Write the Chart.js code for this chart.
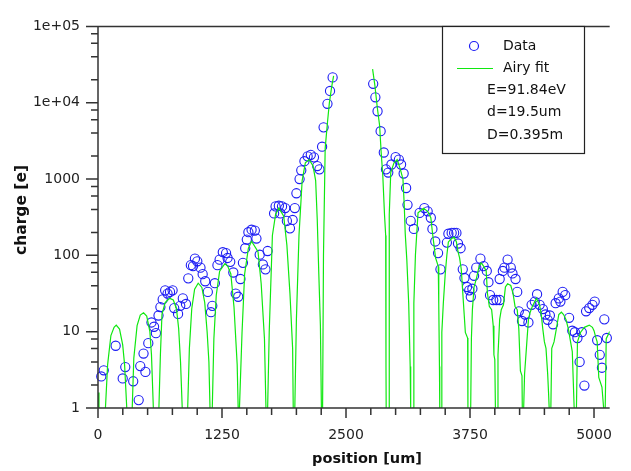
<!DOCTYPE html>
<html><head><meta charset="utf-8">
<script src="https://cdn.jsdelivr.net/npm/chart.js@4.4.0/dist/chart.umd.min.js"></script>
<style>html,body{margin:0;padding:0;background:#fff;}#wrap{width:631px;height:471px;position:relative;}</style>
</head><body><div id="wrap"><canvas id="c" width="631" height="471"></canvas></div>
<script>
// measured data (position in um, charge in e)
const dataX = [33,58,178,249,275,355,410,426,459,478,507,539,565,584,610,629,652,677,701,726,752,768,807,829,855,887,910,936,958,977,1001,1033,1055,1081,1107,1139,1152,1178,1204,1226,1258,1291,1306,1333,1364,1388,1413,1436,1461,1484,1500,1516,1548,1581,1597,1630,1662,1688,1710,1775,1790,1823,1839,1855,1887,1904,1935,1962,1984,2000,2032,2049,2081,2113,2145,2177,2210,2232,2259,2274,2313,2339,2365,2774,2796,2818,2849,2881,2903,2926,2958,3000,3033,3055,3081,3106,3120,3152,3184,3242,3290,3323,3355,3371,3400,3428,3452,3517,3532,3565,3590,3613,3629,3655,3677,3694,3720,3742,3758,3774,3791,3813,3855,3887,3919,3936,3952,3984,4016,4049,4049,4081,4097,4129,4161,4178,4209,4226,4242,4274,4306,4339,4371,4403,4426,4452,4484,4510,4533,4555,4587,4613,4645,4661,4684,4710,4749,4781,4807,4833,4855,4877,4903,4920,4952,4984,5007,5032,5058,5080,5104,5129];
const dataY = [2.59,3.12,6.54,2.44,3.44,2.24,1.27,3.54,5.17,2.97,7.07,13.2,11.6,9.56,16.3,21.0,26.5,34.8,31.6,33.2,34.8,20.4,17.1,21.8,27.3,23.1,50.0,74.4,72.3,90.5,83.6,69.0,56.7,45.8,33.2,18.0,21.8,43.2,74.4,87.9,110,107,92.4,82.2,59.6,31.6,28.7,49.0,79.8,124,161,201,217,211,166,102,76,65.6,114,354,438,447,354,438,417,283,226,291,417,651,1000,1301,1713,1982,2076,1925,1480,1340,2655,4757,9680,14260,21470,17700,11770,7730,4234,2228,1340,1217,1550,1942,1794,1550,1182,763,460,283,222,360,417,378,311,222,152,107,65.6,147,192,197,197,197,143,124,65.6,50.5,38.5,34.8,28.7,36.6,54,69,90.5,72.3,62.5,44.5,30.1,26.0,26.0,26.0,49,62.5,69,87.9,69,57.9,49,33.2,18.5,13.8,16.8,13.2,22.5,24.8,31.0,22.5,19.8,16.8,14.3,16.3,12.5,23.6,27.3,24.8,33.2,30.1,15.2,10.3,9.84,8.26,4.02,9.84,1.97,18.5,20.4,22.5,24.8,7.72,4.98,3.37,14.5,8.26];
// Airy fit curve
const fitX = [0,10, 75,97,130,162,184,217,249,268,290,303, 345,361,394,426,459,491,523,539,558,585, 614,629,645,677,716,726,759,791,813,832,849,878, 904,921,945,974,1010,1047,1076,1100,1118,1129,1141, 1152,1168,1192,1226,1279,1308,1339,1371,1403,1413,1420, 1426,1452,1478,1516,1548,1613,1645,1678,1693,1702, 1710,1726,1758,1790,1823,1872,1904,1935,1962,1968,1976, 1984,2000,2026,2058,2090,2129,2168,2194,2210,2226,2242,2252,2259, 2264,2273,2290,2313,2332,2355,2375, 2570, 2768,2791,2816,2839,2855,2871,2888,2900,2903,2905,2919, 2934,2936,2951,2984,3016,3048,3074,3087,3097,3113,3132,3147,3152,3161, 3176,3184,3200,3226,3281,3323,3355,3371,3387,3403,3430,3435,3442,3445,3452, 3459,3466,3481,3500,3517,3532,3565,3590,3613,3629,3645,3662,3684,3703,3726,3729,3742, 3757,3764,3774,3791,3817,3839,3862,3887,3913,3926,3945,3968,3984,3991,4000,4006,4016, 4026,4032,4049,4065,4087,4107,4129,4161,4184,4204,4226,4242,4258,4274,4277,4284, 4291,4300,4323,4339,4355,4378,4420,4451,4468,4484,4500,4516,4533,4542,4548,4555, 4565,4574,4597,4620,4645,4671,4693,4717,4742,4758,4781,4800,4811, 4823,4833,4865,4903,4952,4984,5000,5017,5032,5048,5080,5097,5105, 5113,5123,5155,5180];
const fitY = [1.6,0.1, 1,3.7,8.9,11.4,12.2,10.8,6.7,3.7,1,0.1, 1,4.5,12,16.5,17.7,16,10,5,1,0.1, 1,5,17,24,27,27.3,26,20,11,4,1,0.1, 1,6,20,36,43.2,38,24,10,4,1,0.1, 1,8,30,62,78,72,57,21,3.7,1,0.1, 1,9.8,56.7,124,153,112,42.4,8.1,1,0.1, 1,9.8,182,344,417,327,136,31.6,6.0,1,0.1, 1,14.5,182,955,1630,1795,1480,955,297,56.7,12,1,0.1, 1,102,2525,5508,9866,16030,22500, null, 27500,16840,8530,4990,2183,1105,344,182,3.5,1,0.1, 1,344,1217,1630,1795,1340,1000,460,193,88,23.6,3.5,1,0.1, 1,23.6,102,360,413,378,311,201,136,92.4,71.6,23.6,3.5,1,0.1, 1,9.8,23.6,56.7,102,150,166,173,150,112,92.4,65.6,23.6,9.8,8.26,1,0.1, 1,8.1,19.4,38.5,51.5,69,79.8,72.3,62.5,31.6,21.4,19.4,12,4.98,4.3,1,0.1, 1,4.98,14.5,19.4,22.5,38.5,42.4,40.3,31.6,21.4,19.4,10.8,3.06,2.64,1,0.1, 1,2.78,7.35,14.5,17.7,21.4,27.3,22.5,16.8,10.8,7.35,6.04,2.78,1.55,1,0.1, 1,6.04,7.35,10.8,16.8,18.0,16.8,14.5,10.8,8.1,5.49,1,0.1, 1,7.35,9.84,11.4,12.2,11.4,10.3,8.5,7.35,2.52,1.88,1,0.1, 1,8.1,9.84,10.5];
const xTickValues = [0,1250,2500,3750,5000];
const yTickValues = [1,10,100,1000,10000,100000];
const yTickLabels = ['1','10','100','1000','1e+04','1e+05'];
const xTitle = 'position [um]';
const yTitle = 'charge [e]';
const legendLabels = ['Data','Airy fit'];
const legendNotes = ['E=91.84eV','d=19.5um','D=0.395m'];

const FONT = 'DejaVu Sans';
const AXIS = '#333333';
const BLUE = '#1c1cf4';
const GREEN = '#10e810';

const decor = {
  id: 'decor',
  afterDraw(chart) {
    const ctx = chart.ctx, xs = chart.scales.x, ys = chart.scales.y, a = chart.chartArea;
    ctx.save();
    ctx.strokeStyle = AXIS; ctx.lineWidth = 1.5;
    ctx.beginPath();
    ctx.moveTo(a.left, a.top); ctx.lineTo(a.right, a.top);
    ctx.moveTo(a.left, a.top); ctx.lineTo(a.left, a.bottom); ctx.lineTo(a.right, a.bottom);
    for (let d = 0; d <= 5; d++) {
      const p = ys.getPixelForValue(Math.pow(10, d));
      ctx.moveTo(a.left - 12, p); ctx.lineTo(a.left, p);
      if (d < 5) for (const m of [2,4,6,8]) {
        const q = ys.getPixelForValue(m * Math.pow(10, d));
        ctx.moveTo(a.left - 7, q); ctx.lineTo(a.left, q);
      }
    }
    for (let v = 0; v <= xs.max; v += 250) {
      const p = xs.getPixelForValue(v);
      const len = (v % 1250 === 0) ? 10 : 7;
      ctx.moveTo(p, a.bottom); ctx.lineTo(p, a.bottom + len);
    }
    ctx.stroke();
    ctx.fillStyle = '#111';
    ctx.textAlign = 'center'; ctx.textBaseline = 'middle';
    ctx.font = 'bold 14.5px ' + FONT;
    ctx.fillText(xTitle, 367, 459);
    ctx.font = 'bold 15.5px ' + FONT;
    ctx.save(); ctx.translate(22, 210); ctx.rotate(-Math.PI / 2);
    ctx.fillText(yTitle, 0, 0); ctx.restore();
    ctx.fillStyle = '#fff';
    ctx.fillRect(442, 26, 142, 127);
    ctx.strokeStyle = '#222'; ctx.lineWidth = 1.2;
    ctx.strokeRect(442.5, 26.5, 142, 127);
    ctx.strokeStyle = BLUE; ctx.lineWidth = 1.2; ctx.beginPath(); ctx.arc(474, 46, 4.5, 0, Math.PI * 2); ctx.stroke();
    ctx.strokeStyle = GREEN; ctx.beginPath(); ctx.moveTo(457, 68.5); ctx.lineTo(493, 68.5); ctx.stroke();
    ctx.fillStyle = '#111'; ctx.font = '14px ' + FONT; ctx.textAlign = 'left';
    ctx.fillText(legendLabels[0], 503, 46);
    ctx.fillText(legendLabels[1], 503, 68);
    legendNotes.forEach((t, i) => ctx.fillText(t, 487, 90 + i * 22.5));
    ctx.restore();
  }
};

new Chart(document.getElementById('c'), {
  type: 'scatter',
  data: {
    datasets: [
      { type: 'line', label: legendLabels[1], data: fitX.map((x, i) => ({x, y: fitY[i]})),
        borderColor: GREEN, borderWidth: 1.2, pointRadius: 0, tension: 0, fill: false, spanGaps: false, clip: 0 },
      { label: legendLabels[0], data: dataX.map((x, i) => ({x, y: dataY[i]})),
        pointStyle: 'circle', pointRadius: 4.6, borderColor: BLUE, backgroundColor: 'rgba(0,0,0,0)', borderWidth: 1.1, showLine: false, clip: false }
    ]
  },
  options: {
    responsive: false, animation: false, events: [],
    layout: { padding: { top: 14, right: 0, left: 0, bottom: 0 } },
    plugins: { legend: { display: false }, tooltip: { enabled: false } },
    scales: {
      x: { type: 'linear', min: 0, max: 5158,
        afterFit: s => { s.height = 63; },
        afterBuildTicks: s => { s.ticks = xTickValues.map(v => ({ value: v })); },
        grid: { display: true, drawOnChartArea: false, drawTicks: false },
        border: { display: false },
        ticks: { font: { family: FONT, size: 14 }, color: '#222', padding: 19, maxRotation: 0, autoSkip: false, callback: v => String(v) } },
      y: { type: 'logarithmic', min: 1, max: 100000,
        afterFit: s => { s.width = 98; },
        afterBuildTicks: s => { s.ticks = yTickValues.map(v => ({ value: v })); },
        grid: { display: true, drawOnChartArea: false, drawTicks: false },
        border: { display: false },
        ticks: { font: { family: FONT, size: 14 }, color: '#222', padding: 18, autoSkip: false,
          callback: (v) => { const i = yTickValues.indexOf(v); return i >= 0 ? yTickLabels[i] : ''; } } }
    }
  },
  plugins: [decor]
});
</script></body></html>
